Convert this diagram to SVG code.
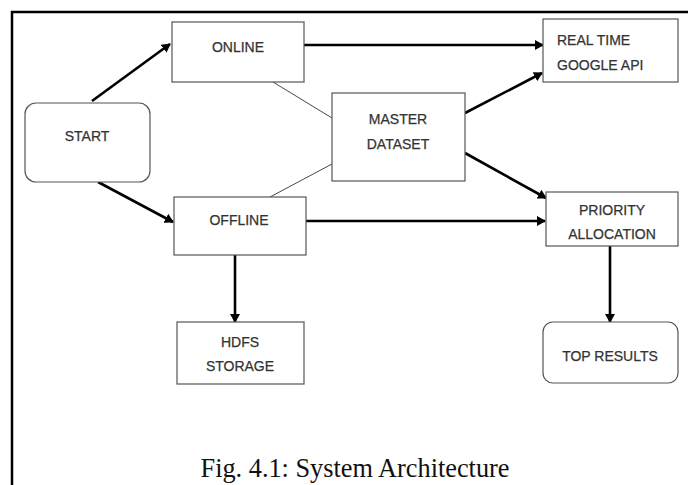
<svg xmlns="http://www.w3.org/2000/svg" width="688" height="485" viewBox="0 0 688 485">
<style>
.box{fill:#fff;stroke:#555;stroke-width:1.2}
.lbl{font-family:"Liberation Sans",Arial,sans-serif;font-size:14px;fill:#333;stroke:#333;stroke-width:0.25;text-anchor:middle}
.lft{text-anchor:start}
.arr{stroke:#000;stroke-width:2.6;fill:none;marker-end:url(#ah)}
.thin{stroke:#333;stroke-width:0.9;fill:none}
</style>
<defs>
<marker id="ah" markerWidth="10" markerHeight="10" refX="8" refY="5" orient="auto" markerUnits="userSpaceOnUse">
<path d="M0,0 L9,5 L0,10 z" fill="#000"/>
</marker>
</defs>
<rect width="688" height="485" fill="#fff"/>
<path d="M12,485 V12 H688" stroke="#000" stroke-width="2.5" fill="none"/>
<g id="connectors">
<line class="thin" x1="273" y1="82" x2="332" y2="118"/>
<line class="thin" x1="270" y1="197" x2="332" y2="164"/>
<line class="arr" x1="92" y1="101" x2="170" y2="44"/>
<line class="arr" x1="98" y1="182" x2="173" y2="222"/>
<line class="arr" x1="304" y1="45" x2="543" y2="45"/>
<line class="arr" x1="465" y1="113" x2="542" y2="73"/>
<line class="arr" x1="465" y1="153" x2="546" y2="198"/>
<line class="arr" x1="306" y1="221" x2="545" y2="221"/>
<line class="arr" x1="235" y1="255" x2="235" y2="322"/>
<line class="arr" x1="610" y1="246" x2="610" y2="322"/>
</g>
<g id="start">
<rect class="box" x="25" y="103" width="125" height="79" rx="11"/>
<text class="lbl" x="87" y="141">START</text>
</g>
<g id="online">
<rect class="box" x="172" y="22" width="132" height="60"/>
<text class="lbl" x="238" y="52">ONLINE</text>
</g>
<g id="offline">
<rect class="box" x="174" y="197" width="132" height="58"/>
<text class="lbl" x="239" y="225">OFFLINE</text>
</g>
<g id="master">
<rect class="box" x="332" y="93" width="133" height="88"/>
<text class="lbl" x="398" y="124">MASTER</text>
<text class="lbl" x="398" y="149">DATASET</text>
</g>
<g id="google">
<rect class="box" x="543" y="19" width="135" height="63"/>
<text class="lbl lft" x="557" y="45">REAL TIME</text>
<text class="lbl lft" x="557" y="70">GOOGLE API</text>
</g>
<g id="priority">
<rect class="box" x="546" y="192" width="132" height="54"/>
<text class="lbl" x="612" y="215">PRIORITY</text>
<text class="lbl" x="612" y="239">ALLOCATION</text>
</g>
<g id="hdfs">
<rect class="box" x="177" y="322" width="127" height="62"/>
<text class="lbl" x="240" y="347">HDFS</text>
<text class="lbl" x="240" y="371">STORAGE</text>
</g>
<g id="top">
<rect class="box" x="543" y="322" width="135" height="61" rx="10"/>
<text class="lbl" x="610" y="361">TOP RESULTS</text>
</g>
<text x="355" y="477" font-family="'Liberation Serif','Times New Roman',serif" font-size="26.3" fill="#111" text-anchor="middle">Fig. 4.1: System Architecture</text>
</svg>
